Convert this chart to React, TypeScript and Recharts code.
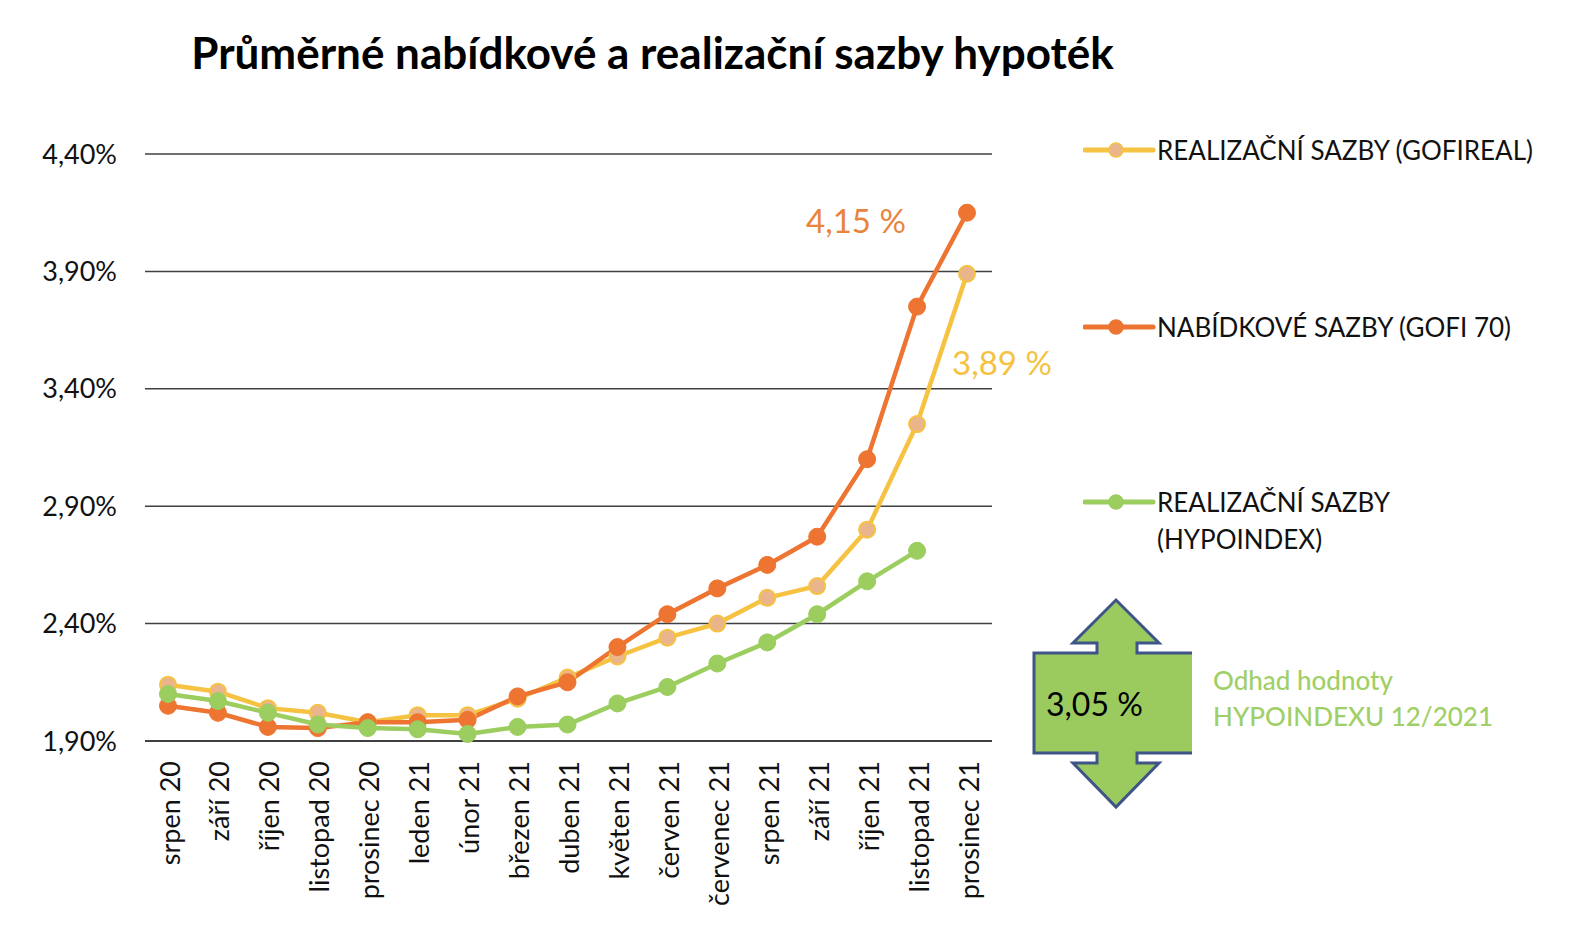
import React from "react"
import { LineChart, Line, XAxis, YAxis, CartesianGrid, LabelList } from "recharts"

const months = [
  "srpen 20", "září 20", "říjen 20", "listopad 20", "prosinec 20",
  "leden 21", "únor 21", "březen 21", "duben 21", "květen 21", "červen 21",
  "červenec 21", "srpen 21", "září 21", "říjen 21", "listopad 21", "prosinec 21",
]
const gofireal = [2.14, 2.11, 2.04, 2.02, 1.98, 2.01, 2.01, 2.08, 2.17, 2.26, 2.34, 2.4, 2.51, 2.56, 2.8, 3.25, 3.89]
const gofi70 = [2.05, 2.02, 1.96, 1.955, 1.98, 1.98, 1.99, 2.09, 2.15, 2.3, 2.44, 2.55, 2.65, 2.77, 3.1, 3.75, 4.15]
const hypoindex = [2.1, 2.07, 2.02, 1.97, 1.955, 1.95, 1.93, 1.96, 1.97, 2.06, 2.13, 2.23, 2.32, 2.44, 2.58, 2.71, null]
const yTicks = [1.9, 2.4, 2.9, 3.4, 3.9, 4.4]
const estimate = "3,05 %"

const YELLOW = "#F5C242"
const PEACH = "#EBB58C"
const ORANGE = "#ED7431"
const GREEN = "#9BCD5F"
const FONT = "Lato, 'Open Sans', sans-serif"

const data = months.map((m, i) => ({
  month: m,
  gofireal: gofireal[i],
  gofi70: gofi70[i],
  hypoindex: hypoindex[i],
}))

const legendItems = [
  { label: ["REALIZAČNÍ SAZBY (GOFIREAL)"], color: YELLOW, dot: PEACH, top: 150 },
  { label: ["NABÍDKOVÉ SAZBY (GOFI 70)"], color: ORANGE, dot: ORANGE, top: 327 },
  { label: ["REALIZAČNÍ SAZBY", "(HYPOINDEX)"], color: GREEN, dot: GREEN, top: 502 },
]

const fmtPct = (v: number) => v.toFixed(2).replace(".", ",") + "%"

function MonthTick({ x, y, payload }: any) {
  return (
    <text
      transform={`translate(${x + 1},${y + 12}) rotate(-90)`}
      textAnchor="end"
      dominantBaseline="central"
      fontSize={27}
      fontFamily={FONT}
      fill="#111"
    >
      {payload.value}
    </text>
  )
}

function lastLabel(text: string, color: string, dx: number, dy: number) {
  return (props: any) => {
    if (props.index !== months.length - 1) return null
    return (
      <text
        x={props.x + dx}
        y={props.y + dy}
        textAnchor="middle"
        dominantBaseline="central"
        fontSize={33}
        fontFamily={FONT}
        fill={color}
      >
        {text}
      </text>
    )
  }
}

function LegendBox() {
  return (
    <div style={{ position: "absolute", left: 1083, top: 0 }}>
      {legendItems.map((it) => (
        <div key={it.label[0]} style={{ position: "absolute", left: 0, top: it.top }}>
          <svg width={74} height={20} style={{ position: "absolute", left: 0, top: -10 }}>
            <line x1={2} y1={10} x2={70} y2={10} stroke={it.color} strokeWidth={5} strokeLinecap="round" />
            <circle cx={33} cy={10} r={7} fill={it.dot} stroke={it.color} strokeWidth={1.5} />
          </svg>
          {it.label.map((l, j) => (
            <div
              key={l}
              style={{
                position: "absolute",
                left: 74,
                top: -17 + j * 37,
                whiteSpace: "nowrap",
                fontSize: 26,
                lineHeight: "34px",
                fontFamily: FONT,
                color: "#111",
              }}
            >
              {l}
            </div>
          ))}
        </div>
      ))}
    </div>
  )
}

export default function App() {
  return (
    <div style={{ position: "absolute", left: 0, top: 0, width: 1572, height: 942, background: "#fff" }}>
      <div
        style={{
          position: "absolute",
          left: 0,
          width: 1305,
          top: 26,
          textAlign: "center",
          fontFamily: FONT,
          fontWeight: 700,
          fontSize: 44,
          color: "#000",
        }}
      >
        Průměrné nabídkové a realizační sazby hypoték
      </div>
      <div style={{ position: "absolute", left: 0, top: 0 }}>
        <LineChart width={1100} height={942} data={data} margin={{ top: 154, right: 108, left: 0, bottom: 0 }}>
          <CartesianGrid horizontal vertical={false} stroke="#404040" strokeWidth={1.5} />
          <XAxis
            dataKey="month"
            height={201}
            interval={0}
            padding={{ left: 23, right: 25 }}
            tick={<MonthTick />}
            tickLine={false}
            axisLine={{ stroke: "#404040", strokeWidth: 2 }}
          />
          <YAxis
            width={145}
            domain={[1.9, 4.4]}
            ticks={yTicks}
            tickFormatter={fmtPct}
            axisLine={false}
            tickLine={false}
            tickMargin={22}
            tick={{ fontSize: 27, fill: "#111", fontFamily: FONT }}
          />
          <Line
            dataKey="gofireal"
            stroke={YELLOW}
            strokeWidth={4.5}
            dot={{ r: 8, fill: PEACH, stroke: YELLOW, strokeWidth: 2 }}
            isAnimationActive={false}
          >
            <LabelList dataKey="gofireal" content={lastLabel("3,89 %", YELLOW, 35, 88)} />
          </Line>
          <Line
            dataKey="gofi70"
            stroke={ORANGE}
            strokeWidth={4.5}
            dot={{ r: 8.5, fill: ORANGE, stroke: ORANGE, strokeWidth: 1 }}
            isAnimationActive={false}
          >
            <LabelList dataKey="gofi70" content={lastLabel("4,15 %", "#E8843C", -111, 7)} />
          </Line>
          <Line
            dataKey="hypoindex"
            stroke={GREEN}
            strokeWidth={4.5}
            dot={{ r: 8.5, fill: GREEN, stroke: GREEN, strokeWidth: 1 }}
            isAnimationActive={false}
          />
        </LineChart>
      </div>
      <LegendBox />
      <svg width={1572} height={942} style={{ position: "absolute", left: 0, top: 0, pointerEvents: "none" }}>
        <polygon
          points="1116,600 1159,643 1137,643 1137,653 1192,653 1192,753 1137,753 1137,763 1159,763 1116,807 1073,763 1097,763 1097,753 1034,753 1034,653 1097,653 1097,643 1073,643"
          fill="#9BCB5E"
        />
        <polyline
          points="1192,653 1137,653 1137,643 1159,643 1116,600 1073,643 1097,643 1097,653 1034,653 1034,753 1097,753 1097,763 1073,763 1116,807 1159,763 1137,763 1137,753 1192,753"
          fill="none"
          stroke="#3F5587"
          strokeWidth={3}
        />
        <text x={1046} y={703} dominantBaseline="central" fontSize={32} fontFamily={FONT} fill="#000">
          {estimate}
        </text>
      </svg>
      <div
        style={{
          position: "absolute",
          left: 1213,
          top: 662,
          fontFamily: FONT,
          fontSize: 26,
          lineHeight: "36px",
          color: "#A0CF68",
          fontWeight: 500,
        }}
      >
        Odhad hodnoty
        <br />
        HYPOINDEXU 12/2021
      </div>
    </div>
  )
}
